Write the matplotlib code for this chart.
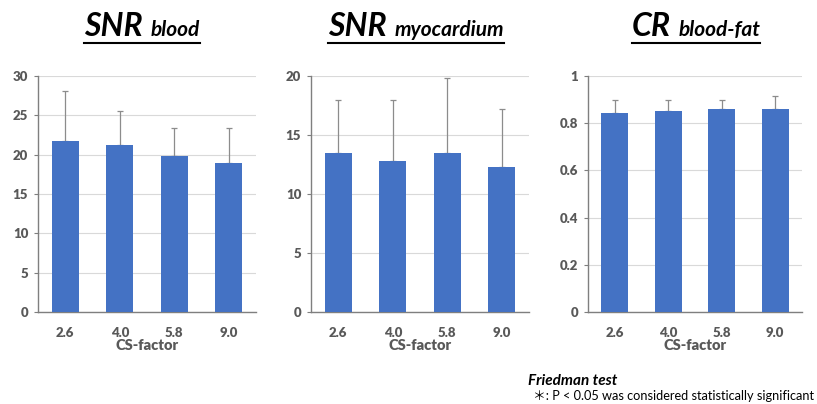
import matplotlib
matplotlib.use("Agg")
import matplotlib.pyplot as plt
from matplotlib.lines import Line2D

plt.rcParams['font.family'] = ['Lato', 'DejaVu Sans']

categories = ["2.6", "4.0", "5.8", "9.0"]
snr_blood = [21.7, 21.2, 19.8, 18.9]
snr_blood_sd = [6.4, 4.4, 3.6, 4.5]
snr_myo = [13.5, 12.8, 13.5, 12.3]
snr_myo_sd = [4.5, 5.2, 6.3, 4.9]
cr_bf = [0.845, 0.85, 0.86, 0.862]
cr_bf_sd = [0.055, 0.05, 0.04, 0.053]

panels = [
    dict(vals=snr_blood, sd=snr_blood_sd, ymax=30, step=5, fmt="{:g}",
         main="SNR", sub="blood", rect=[38, 256], tcx=142),
    dict(vals=snr_myo, sd=snr_myo_sd, ymax=20, step=5, fmt="{:g}",
         main="SNR", sub="myocardium", rect=[311, 529], tcx=416),
    dict(vals=cr_bf, sd=cr_bf_sd, ymax=1, step=0.2, fmt="{:g}",
         main="CR", sub="blood-fat", rect=[588, 802], tcx=696),
]

W, H = 817, 404
fig = plt.figure(figsize=(W / 100, H / 100), dpi=100)
fig.patch.set_facecolor("white")

bar_color = "#4472C4"
gray = "#595959"
axes = []
for p in panels:
    x0, x1 = p["rect"]
    ax = fig.add_axes([x0 / W, (H - 312) / H, (x1 - x0) / W, 236 / H])
    axes.append(ax)
    xs = list(range(len(categories)))
    ax.bar(xs, p["vals"], width=0.5, color=bar_color, zorder=3,
           yerr=[[0] * 4, p["sd"]], error_kw=dict(ecolor="#8c8c8c", elinewidth=0.9,
                                                  capsize=2.2, capthick=0.9, zorder=2))
    ax.set_xlim(-0.5, 3.5)
    ax.set_ylim(0, p["ymax"])
    n = int(round(p["ymax"] / p["step"]))
    ticks = [round(i * p["step"], 3) for i in range(n + 1)]
    ax.set_yticks(ticks)
    ax.set_yticklabels([p["fmt"].format(t) for t in ticks])
    ax.set_xticks(xs)
    ax.set_xticklabels(categories)
    ax.grid(axis="y", color="#d9d9d9", linewidth=0.8, zorder=0)
    for s in ["top", "right"]:
        ax.spines[s].set_visible(False)
    for s in ["left", "bottom"]:
        ax.spines[s].set_color("#7f7f7f")
        ax.spines[s].set_linewidth(1.0)
    ax.tick_params(axis="y", length=3, width=0.8, color="#7f7f7f", pad=4,
                   labelsize=9.5, labelcolor=gray)
    ax.tick_params(axis="x", length=0, pad=11, labelsize=9.5, labelcolor=gray)
    for lab in ax.get_xticklabels() + ax.get_yticklabels():
        lab.set_fontweight("heavy")
    ax.set_xlabel("CS-factor", fontsize=10.5, fontweight="heavy", color=gray, labelpad=0)

fig.canvas.draw()
renderer = fig.canvas.get_renderer()

# Titles with underline
for p in panels:
    base_y = (H - 36) / H
    t1 = fig.text(0, base_y, p["main"], fontsize=23, fontweight="bold", style="italic",
                  va="baseline", ha="left", color="black")
    t2 = fig.text(0, base_y, p["sub"], fontsize=15, fontweight="bold", style="italic",
                  va="baseline", ha="left", color="black")
    b1 = t1.get_window_extent(renderer)
    b2 = t2.get_window_extent(renderer)
    gap = 8
    total = b1.width + gap + b2.width
    left = p["tcx"] - total / 2
    t1.set_x(left / W)
    t2.set_x((left + b1.width + gap) / W)
    uy = (H - 43) / H
    fig.add_artist(Line2D([left / W, (left + total) / W], [uy, uy], color="black",
                          linewidth=1.5, transform=fig.transFigure))

fig.text(528 / W, (H - 381) / H, "Friedman test", fontsize=11, fontweight="bold",
         style="italic", va="center", ha="left", color="black")
fig.text(533 / W, (H - 396) / H, "\uff0a: P < 0.05 was considered statistically significant",
         fontsize=9.2, va="center", ha="left", color="black",
         family=["Lato", "Noto Sans CJK JP", "DejaVu Sans"])

fig.savefig("out.png", dpi=100, facecolor="white")
